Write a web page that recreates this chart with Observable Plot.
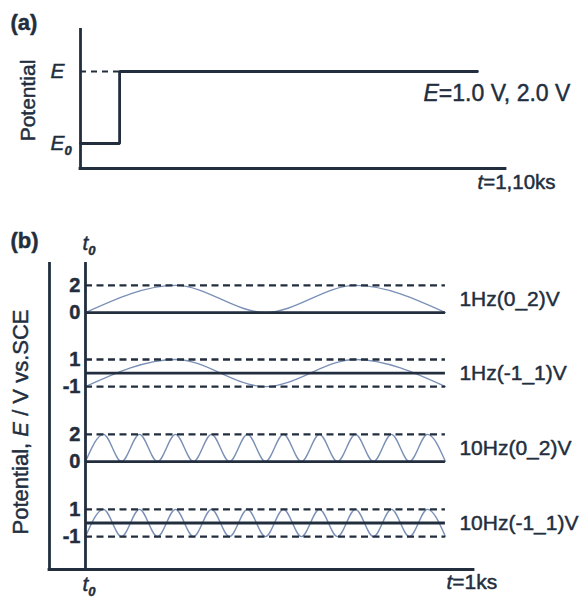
<!DOCTYPE html>
<html>
<head>
<meta charset="utf-8">
<script src="https://cdn.jsdelivr.net/npm/d3@7"></script>
<script src="https://cdn.jsdelivr.net/npm/@observablehq/plot@0.6"></script>
<style>
  body { margin: 0; background: #fff; }
  #chart { width: 587px; height: 600px; background: #fff; }
  #chart svg { display: block; }
</style>
</head>
<body>
<div id="chart"></div>
<script>
// ---------------- Data ----------------
// Panel (a): potential step (time in arbitrary units, potential: 0 = E0, 1 = E)
const stepTime = [0, 0.92, 0.92, 9.34];
const stepPotential = [0, 0, 1, 1];
const stepLevels = [0, 1];
const stepLevelLabels = ["*E*_{0}", "*E*"];
const stepNote = "*E*=1.0 V, 2.0 V";
const stepTimeNote = "*t*=1,10ks";

// Panel (b): sine-wave programs (time in s, potential in V)
const waveLabels = ["1Hz(0_2)V", "1Hz(-1_1)V", "10Hz(0_2)V", "10Hz(-1_1)V"];
const waveHigh = [2, 1, 2, 1];
const waveLow = [0, -1, 0, -1];
const waveHighTick = ["2", "1", "2", "1"];
const waveLowTick = ["0", "-1", "0", "-1"];
const times1Hz = [0, 0.5, 1, 1.5, 2];
const times10Hz = [0, 0.1, 0.2, 0.3, 0.4, 0.5, 0.6, 0.7, 0.8, 0.9, 1.0,
                   1.1, 1.2, 1.3, 1.4, 1.5, 1.6, 1.7, 1.8, 1.9, 2.0];
const wave1 = [0, 2, 0, 2, 0];
const wave2 = [-1, 1, -1, 1, -1];
const wave3 = [0, 2, 0, 2, 0, 2, 0, 2, 0, 2, 0, 2, 0, 2, 0, 2, 0, 2, 0, 2, 0];
const wave4 = [-1, 1, -1, 1, -1, 1, -1, 1, -1, 1, -1, 1, -1, 1, -1, 1, -1, 1, -1, 1, -1];
const panelBTimeNote = "*t*=1ks";
const panelBStartLabel = "*t*_{0}";
const panelBYLabel = "Potential, *E* / V vs.SCE";

// ---------------- Layout / style ----------------
const FONT = '"Liberation Sans", Arial, Helvetica, sans-serif';
const INK = "#222e3e";
const WAVE = "#7b90b7";
const rowOffset = [0, -4.45, -10.96, -15.48]; // vertical stacking of the four programs
const txt = {fill: INK, stroke: INK, strokeWidth: 0.45};

// ---------------- helpers ----------------
function richify(svg) {
  d3.select(svg).selectAll("text").each(function () {
    const s = this.textContent;
    if (!/\*|_\{/.test(s)) return;
    const el = d3.select(this);
    el.text(null);
    const re = /\*([^*]+)\*|_\{([^}]+)\}|((?:[^*_]|_(?!\{))+)/g;
    let m;
    while ((m = re.exec(s))) {
      if (m[1] !== undefined) el.append("tspan").attr("font-style", "italic").text(m[1]);
      else if (m[2] !== undefined) el.append("tspan").attr("font-size", "0.62em").attr("font-weight", "bold").attr("font-style", "italic").attr("dy", "0.38em").text(m[2]);
      else el.append("tspan").text(m[3]);
    }
  });
}

// ---------------- Panel (a) ----------------
const stepPts = stepTime.map((t, i) => ({t, v: stepPotential[i]}));
const yA = [-0.347, 1.597];
const plotA = Plot.plot({
  width: 587, height: 200,
  marginLeft: 80, marginRight: 82, marginTop: 28, marginBottom: 32,
  x: {domain: [0, 10], axis: null},
  y: {domain: yA, axis: null},
  style: {fontFamily: FONT, background: "white", color: INK, overflow: "visible"},
  marks: [
    Plot.ruleY([stepPotential[3]], {x1: stepTime[0], x2: stepTime[1], stroke: INK, strokeWidth: 2.2, strokeDasharray: "6,5"}),
    Plot.line(stepPts, {x: "t", y: "v", stroke: INK, strokeWidth: 2.8, strokeLinejoin: "miter"}),
    Plot.ruleX([0], {stroke: INK, strokeWidth: 2.8}),
    Plot.ruleY([yA[0]], {stroke: INK, strokeWidth: 2.8, strokeLinecap: "square"}),
    Plot.text(stepLevels, {x: 0, y: d => d, text: (d, i) => stepLevelLabels[i], textAnchor: "start", dx: -30, fontSize: 21, ...txt}),
    Plot.text(["(a)"], {frameAnchor: "top-left", dx: -70, dy: -6, textAnchor: "start", lineAnchor: "middle", fontSize: 22, fontWeight: "bold", ...txt}),
    Plot.text(["Potential"], {frameAnchor: "left", dx: -52, dy: 2, rotate: -90, textAnchor: "middle", lineAnchor: "middle", fontSize: 21, ...txt}),
    Plot.text([stepNote], {frameAnchor: "top-right", dx: -82, dy: 65, textAnchor: "start", lineAnchor: "middle", fontSize: 23, ...txt}),
    Plot.text([stepTimeNote], {frameAnchor: "bottom-right", dx: -28, dy: 14, textAnchor: "start", lineAnchor: "middle", fontSize: 20.5, ...txt})
  ]
});
richify(plotA);

// ---------------- Panel (b) ----------------
const waveSeries = [
  {t: times1Hz, v: wave1},
  {t: times1Hz, v: wave2},
  {t: times10Hz, v: wave3},
  {t: times10Hz, v: wave4}
];
const wavePts = waveSeries.flatMap((s, i) => s.t.map((t, j) => ({row: i, t, y: s.v[j] + rowOffset[i]})));
const rows = waveLabels.map((label, i) => ({
  label, i,
  high: waveHigh[i] + rowOffset[i],
  low: waveLow[i] + rowOffset[i],
  zero: rowOffset[i],
  mid: (waveHigh[i] + waveLow[i]) / 2 + rowOffset[i]
}));
const dashedLevels = rows.flatMap(r => [r.high, ...(waveLow[r.i] !== 0 ? [r.low] : [])]);
const tickMarks = rows.flatMap(r => [{y: r.high, label: waveHighTick[r.i]}, {y: r.low, label: waveLowTick[r.i]}]);
const xB = [-0.2, 2.156];
const yB = [-18.9, 3.68];
const tEnd = times1Hz[times1Hz.length - 1];

const plotB = Plot.plot({
  width: 587, height: 400,
  marginLeft: 49, marginRight: 114, marginTop: 62, marginBottom: 31,
  x: {domain: xB, axis: null},
  y: {domain: yB, axis: null},
  style: {fontFamily: FONT, background: "white", color: INK, overflow: "visible"},
  marks: [
    Plot.line(wavePts, {x: "t", y: "y", z: "row", curve: "monotone-x", stroke: WAVE, strokeWidth: 1.4}),
    Plot.ruleY(dashedLevels, {x1: 0, x2: tEnd, stroke: INK, strokeWidth: 2.4, strokeDasharray: "7,4.5"}),
    Plot.ruleY(rows, {y: "zero", x1: 0, x2: tEnd, stroke: INK, strokeWidth: 2.8}),
    Plot.ruleX([xB[0], 0], {stroke: INK, strokeWidth: 2.8}),
    Plot.ruleY([yB[0]], {stroke: INK, strokeWidth: 2.8, strokeLinecap: "square"}),
    Plot.text(tickMarks, {x: 0, y: "y", text: "label", textAnchor: "end", dx: -5, fontSize: 20, fontWeight: "bold", ...txt}),
    Plot.text(rows, {x: tEnd, y: "mid", text: "label", textAnchor: "start", dx: 14, fontSize: 21, ...txt}),
    Plot.text([panelBStartLabel], {x: 0, frameAnchor: "top", dx: -3, dy: -19, textAnchor: "start", lineAnchor: "middle", fontSize: 21, ...txt}),
    Plot.text([panelBStartLabel], {x: 0, frameAnchor: "bottom", dx: -3, dy: 15, textAnchor: "start", lineAnchor: "middle", fontSize: 21, ...txt}),
    Plot.text(["(b)"], {frameAnchor: "top-left", dx: -39, dy: -22, textAnchor: "start", lineAnchor: "middle", fontSize: 22, fontWeight: "bold", ...txt}),
    Plot.text([panelBYLabel], {frameAnchor: "left", dx: -29, dy: 6, rotate: -90, textAnchor: "middle", lineAnchor: "middle", fontSize: 22, ...txt}),
    Plot.text([panelBTimeNote], {frameAnchor: "bottom-right", dx: -27, dy: 13, textAnchor: "start", lineAnchor: "middle", fontSize: 21, ...txt})
  ]
});
richify(plotB);

const chart = document.getElementById("chart");
chart.appendChild(plotA);
chart.appendChild(plotB);
</script>
</body>
</html>
